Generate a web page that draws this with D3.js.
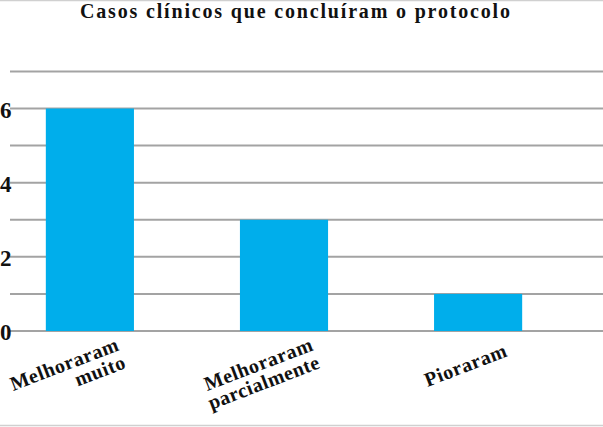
<!DOCTYPE html>
<html>
<head>
<meta charset="utf-8">
<script src="https://cdn.jsdelivr.net/npm/d3@7"></script>
<style>
  body { margin: 0; background: #fff; }
  svg { display: block; }
</style>
</head>
<body>
<svg id="chart"></svg>
<script>
// data
const title = "Casos clínicos que concluíram o protocolo";
const categories = [["Melhoraram", "muito"], ["Melhoraram", "parcialmente"], ["Pioraram"]];
const values = [6, 3, 1];
const gridValues = [0, 1, 2, 3, 4, 5, 6, 7];
const tickLabels = [0, 2, 4, 6];

// window setting
const width = 603;
const height = 427;
const font = '"Liberation Serif"';
const svg = d3.select("#chart").attr("width", width).attr("height", height);

// frame lines top / bottom
svg.append("line").attr("x1", 0).attr("x2", width).attr("y1", 0.5).attr("y2", 0.5)
  .attr("stroke", "#d0d0d0").attr("stroke-width", 1.5);
svg.append("line").attr("x1", 0).attr("x2", width).attr("y1", 425.5).attr("y2", 425.5)
  .attr("stroke", "#d0d0d0").attr("stroke-width", 1.5);

// scales
const keys = categories.map((d) => d.join(" "));
const x = d3.scaleBand().domain(keys).range([7, 561]).paddingInner(0.546).paddingOuter(0.2);
const y = d3.scaleLinear().domain([0, 6]).range([331, 108.5]);

// widen text a little, the original font is tracked
const spread = (sel, k) =>
  sel.each(function () {
    const w = this.getComputedTextLength();
    d3.select(this).attr("textLength", w * k).attr("lengthAdjust", "spacing");
  });

// title
svg.append("text")
  .attr("x", 295)
  .attr("y", 18)
  .attr("text-anchor", "middle")
  .style("font-family", font)
  .style("font-weight", "bold")
  .style("font-size", "20px")
  .attr("fill", "#111")
  .text(title)
  .call((s) => s.attr("textLength", 430).attr("lengthAdjust", "spacing"));

// grid
svg.append("g")
  .selectAll("line")
  .data(gridValues)
  .enter()
  .append("line")
  .attr("x1", 10)
  .attr("x2", width)
  .attr("y1", (d) => y(d))
  .attr("y2", (d) => y(d))
  .attr("stroke", "#a3a3a3")
  .attr("stroke-width", 2);

// bars
svg.append("g")
  .selectAll("rect")
  .data(values)
  .enter()
  .append("rect")
  .attr("x", (d, i) => x(keys[i]))
  .attr("y", (d) => y(d))
  .attr("width", x.bandwidth())
  .attr("height", (d) => y(0) - y(d))
  .attr("fill", "#00aeeb");

// y labels
svg.append("g")
  .selectAll("text")
  .data(tickLabels)
  .enter()
  .append("text")
  .attr("x", 0)
  .attr("y", (d) => y(d) + 9)
  .style("font-family", font)
  .style("font-weight", "bold")
  .style("font-size", "23px")
  .attr("fill", "#111")
  .text((d) => d);

// x labels, rotated
const lab = svg.append("g")
  .selectAll("g")
  .data(categories)
  .enter()
  .append("g")
  .attr("transform", (d, i) => {
    const cx = x(keys[i]) + x.bandwidth() / 2 + 30;
    const cy = d.length > 1 ? 350 : 356;
    return `translate(${cx},${cy}) rotate(-21)`;
  });
lab.selectAll("text")
  .data((d) => d)
  .enter()
  .append("text")
  .attr("x", 0)
  .attr("y", (d, i) => i * 19)
  .attr("text-anchor", "end")
  .style("font-family", font)
  .style("font-weight", "bold")
  .style("font-size", "20px")
  .attr("fill", "#111")
  .text((d) => d)
  .call(spread, 1.05);
</script>
</body>
</html>
